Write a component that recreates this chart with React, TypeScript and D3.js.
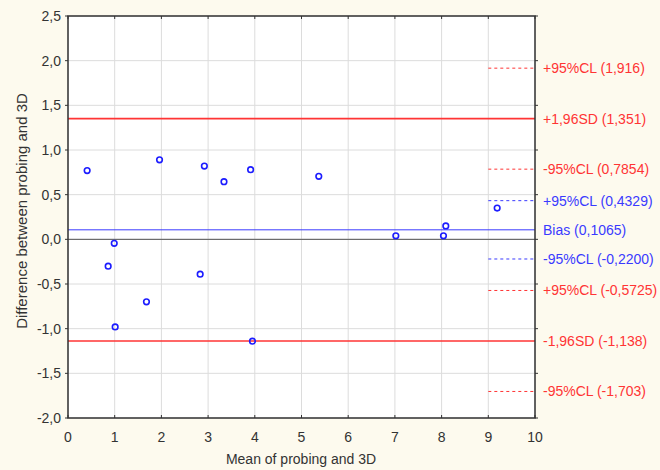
import * as d3 from 'd3';

// Bland-Altman data
const meanVals = [0.41, 0.86, 0.99, 1.01, 1.68, 1.96, 2.83, 2.92, 3.34, 3.91, 3.95, 5.37, 7.02, 8.04, 8.09, 9.19];
const diffVals = [0.77, -0.3, -0.045, -0.98, -0.7, 0.89, -0.39, 0.82, 0.645, 0.78, -1.14, 0.705, 0.04, 0.04, 0.15, 0.35];

const xTicks = [0, 1, 2, 3, 4, 5, 6, 7, 8, 9, 10];
const yTicks = [2.5, 2.0, 1.5, 1.0, 0.5, 0.0, -0.5, -1.0, -1.5, -2.0];

// reference lines: value, label, colour kind, dashed
const refValues = [1.916, 1.351, 0.7854, 0.4329, 0.1065, -0.22, -0.5725, -1.138, -1.703];
const refLabels = [
  '+95%CL (1,916)',
  '+1,96SD (1,351)',
  '-95%CL (0,7854)',
  '+95%CL (0,4329)',
  'Bias (0,1065)',
  '-95%CL (-0,2200)',
  '+95%CL (-0,5725)',
  '-1,96SD (-1,138)',
  '-95%CL (-1,703)',
];
const refKinds = ['red', 'red', 'red', 'blue', 'blue', 'blue', 'red', 'red', 'red'];
const refDashed = [true, false, true, true, false, true, true, false, true];

const RED = '#ff3434';
const BLUE = '#3a3aff';
const fmt = (v: number) => v.toFixed(1).replace('.', ',');

export default function App() {
  const width = 660;
  const height = 470;
  const left = 68;
  const right = 535;
  const top = 16;
  const bottom = 418;

  const x = d3.scaleLinear().domain([0, 10]).range([left, right]);
  const y = d3.scaleLinear().domain([-2, 2.5]).range([bottom, top]);
  const font = 'Liberation Sans, Arial, sans-serif';

  return (
    <svg
      width={width}
      height={height}
      style={{ position: 'absolute', left: 0, top: 0, background: '#fdfaee', fontFamily: font }}
    >
      <rect x={left} y={top} width={right - left} height={bottom - top} fill="#fff" />

      {/* grid */}
      {xTicks.map((t) => (
        <line key={'gx' + t} x1={x(t)} x2={x(t)} y1={top} y2={bottom} stroke="#dcdcdc" strokeWidth={1} />
      ))}
      {yTicks.map((t) => (
        <line key={'gy' + t} x1={left} x2={right} y1={y(t)} y2={y(t)} stroke="#dcdcdc" strokeWidth={1} />
      ))}

      {/* zero line */}
      <line x1={left} x2={right} y1={y(0)} y2={y(0)} stroke="#555" strokeWidth={1} />

      {/* reference lines */}
      {refValues.map((v, i) => {
        const col = refKinds[i] === 'red' ? RED : BLUE;
        return refDashed[i] ? (
          <line key={'r' + i} x1={x(9)} x2={right} y1={y(v)} y2={y(v)} stroke={col} strokeWidth={1} strokeDasharray="3,3" />
        ) : (
          <line key={'r' + i} x1={left} x2={right} y1={y(v)} y2={y(v)} stroke={col} strokeWidth={refKinds[i] === 'red' ? 1.6 : 1} />
        );
      })}

      {/* points */}
      {meanVals.map((m, i) => (
        <circle key={'p' + i} cx={x(m)} cy={y(diffVals[i])} r={2.8} fill="none" stroke="#1c1cff" strokeWidth={1.6} />
      ))}

      {/* frame */}
      <rect x={left} y={top} width={right - left} height={bottom - top} fill="none" stroke="#333" strokeWidth={1.5} />

      {/* ticks */}
      {xTicks.map((t) => (
        <g key={'tx' + t}>
          <line x1={x(t)} x2={x(t)} y1={bottom} y2={bottom - 3} stroke="#333" />
          <line x1={x(t)} x2={x(t)} y1={top} y2={top + 3} stroke="#333" />
          <text x={x(t)} y={bottom + 24} textAnchor="middle" fontSize={14} fill="#333">
            {t}
          </text>
        </g>
      ))}
      {yTicks.map((t) => (
        <g key={'ty' + t}>
          <line x1={right} x2={right + 3} y1={y(t)} y2={y(t)} stroke="#333" />
          <line x1={left} x2={left - 3} y1={y(t)} y2={y(t)} stroke="#333" />
          <text x={left - 7} y={y(t)} dy="0.35em" textAnchor="end" fontSize={14} fill="#333">
            {fmt(t)}
          </text>
        </g>
      ))}

      {/* right labels */}
      {refValues.map((v, i) => (
        <text
          key={'l' + i}
          x={543}
          y={y(v)}
          dy="0.35em"
          fontSize={14}
          fill={refKinds[i] === 'red' ? RED : BLUE}
        >
          {refLabels[i]}
        </text>
      ))}

      {/* axis titles */}
      <text x={301} y={464} textAnchor="middle" fontSize={14} fill="#333">
        Mean of probing and 3D
      </text>
      <text
        transform={`translate(27,211) rotate(-90)`}
        textAnchor="middle"
        fontSize={15}
        fill="#333"
      >
        Difference between probing and 3D
      </text>
    </svg>
  );
}
